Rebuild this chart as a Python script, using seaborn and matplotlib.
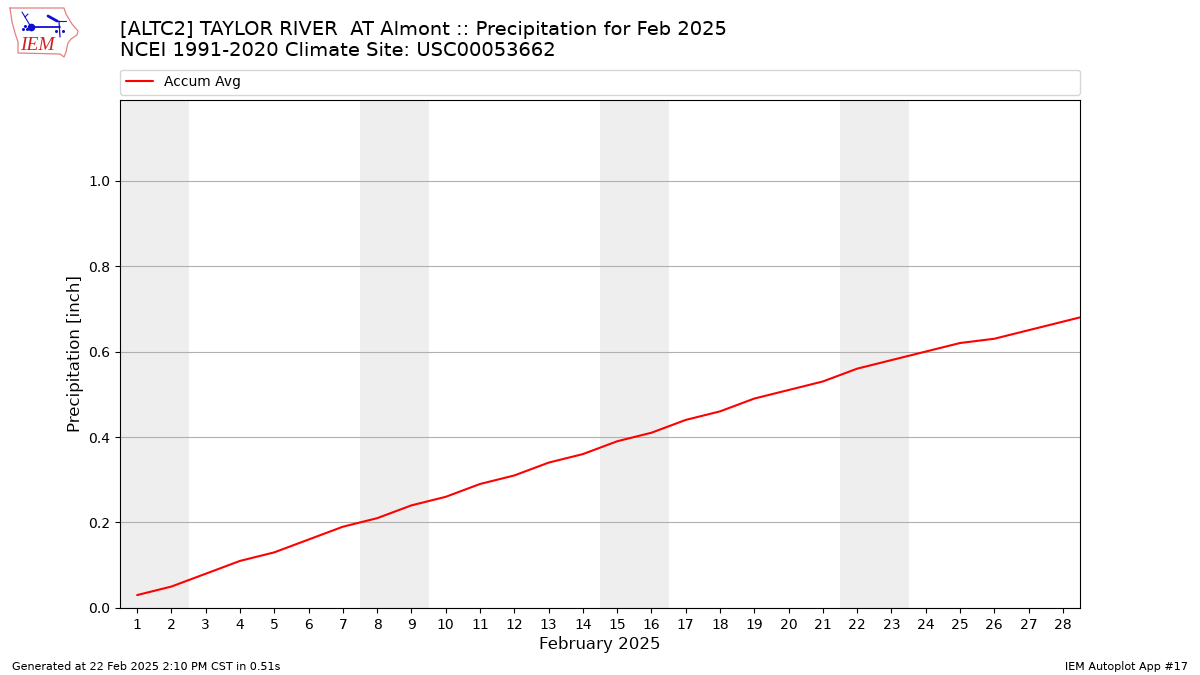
import pandas as pd
import matplotlib
matplotlib.use("Agg")
import matplotlib.pyplot as plt
import seaborn as sns

days = list(range(1, 30))
accum_avg = [0.03, 0.05, 0.08, 0.11, 0.13, 0.16, 0.19, 0.21, 0.24, 0.26,
             0.29, 0.31, 0.34, 0.36, 0.39, 0.41, 0.44, 0.46, 0.49, 0.51,
             0.53, 0.56, 0.58, 0.60, 0.62, 0.63, 0.65, 0.67, 0.69]
weekend_starts = [0.5, 7.5, 14.5, 21.5]
xticks = list(range(1, 29))
yticks = [0.0, 0.2, 0.4, 0.6, 0.8, 1.0]

# logo outline, pixels measured from the top left of the picture
iowa_x = [10, 64, 66, 69, 72, 78, 77, 71, 68, 67, 66, 64, 60, 18, 18, 15, 12, 10]
iowa_y = [8, 8, 14, 19, 24, 31, 35, 39, 43, 47, 52, 57, 54, 53, 42, 33, 22, 8]


def draw_logo(fig):
    # rough redraw of the IEM logo
    ax = fig.add_axes([0, 1 - 61 / 675, 84 / 1200, 61 / 675])
    ax.set_xlim(0, 84)
    ax.set_ylim(61, 0)
    ax.axis("off")
    ax.plot(iowa_x, iowa_y, color="#e48080", lw=0.9)
    ax.plot([31, 60], [27, 27], color="#1010d0", lw=1.3)
    ax.plot([31], [27], "o", color="#1010d0", ms=4.5)
    ax.plot([48, 57], [16, 21], color="#1010d0", lw=2)
    ax.plot([57, 66], [21, 21], color="#1010d0", lw=0.8)
    ax.plot([59, 60], [21, 37], color="#1010d0", lw=0.9)
    ax.plot([22, 25, 31], [12, 17, 27], color="#1010d0", lw=0.8)
    ax.plot([25, 28], [17, 14], color="#1010d0", lw=0.8)
    ax.plot([23, 25, 27, 56, 63], [29, 26, 29, 31, 31], "o", color="#1010d0", ms=1.2, ls="none")
    ax.text(20, 45.5, "IEM", color="#d02020", fontsize=14, family="Liberation Serif",
            style="italic", va="center")


def main():
    sns.set_theme(style="ticks", rc={"axes.edgecolor": "black", "text.color": "black",
                                     "xtick.color": "black", "ytick.color": "black",
                                     "axes.labelcolor": "black", "text.hinting": "native"})
    plt.rcParams["font.family"] = ["DejaVu Sans"]

    df = pd.DataFrame({"day": days, "accum": accum_avg})

    fig = plt.figure(figsize=(12, 6.75), dpi=100)
    ax = fig.add_axes([0.1, 0.09941, 0.8, 0.7526])

    for start in weekend_starts:
        ax.axvspan(start, start + 2, color="#eeeeee", lw=0, zorder=0)

    sns.lineplot(data=df, x="day", y="accum", color="red", label="Accum Avg", ax=ax, lw=1.5, zorder=3)

    ax.set_xlim(0.5, 28.5)
    ax.set_ylim(0, 1.1891)
    ax.set_xticks(xticks)
    ax.set_yticks(yticks)
    ax.tick_params(labelsize=10, length=3.5, width=0.8)
    ax.yaxis.grid(True, color="#b0b0b0", lw=0.8)
    ax.set_axisbelow(True)
    for spine in ax.spines.values():
        spine.set_linewidth(0.8)
    ax.set_xlabel("February 2025", fontsize=12, labelpad=3)
    ax.set_ylabel("Precipitation [inch]", fontsize=12, labelpad=3)

    ax.legend(loc="lower left", bbox_to_anchor=(0, 1.01, 1, 0.05), mode="expand",
              borderaxespad=0, fontsize=10, ncol=1)

    fig.text(0.1, 0.9105, "[ALTC2] TAYLOR RIVER  AT Almont :: Precipitation for Feb 2025\n"
             "NCEI 1991-2020 Climate Site: USC00053662", fontsize=14, ha="left", va="bottom",
             linespacing=1.25)
    fig.text(0.01, 0.008, "Generated at 22 Feb 2025 2:10 PM CST in 0.51s", fontsize=8)
    fig.text(0.99, 0.008, "IEM Autoplot App #17", fontsize=8, ha="right")

    draw_logo(fig)
    fig.savefig("out.png", dpi=100)


if __name__ == "__main__":
    main()
